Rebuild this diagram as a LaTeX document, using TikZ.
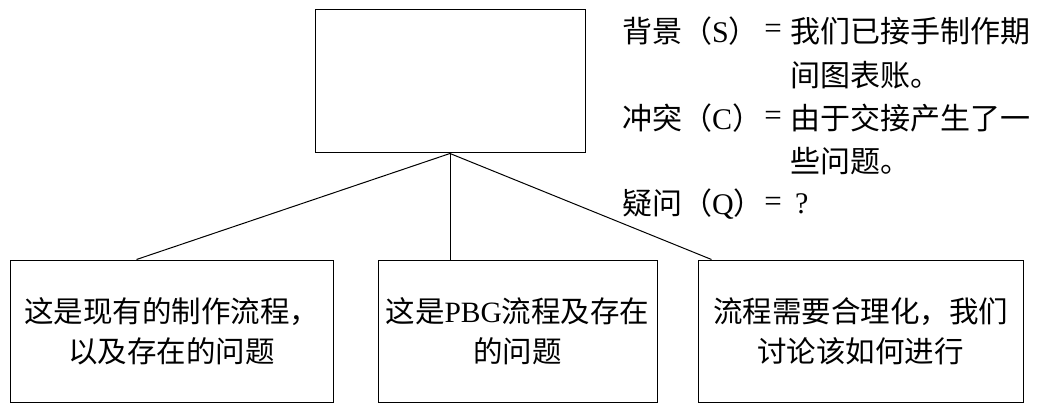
\documentclass[tikz,border=0pt]{standalone}
\usepackage{fontspec}
\setmainfont{Liberation Serif}
\newfontfamily\cjk{Noto Sans CJK SC}
\begin{document}
\begin{tikzpicture}[x=1pt,y=-1pt,
  box/.style={draw,line width=1pt,inner sep=0pt},
  txtbox/.style={box,minimum width=#1,minimum height=142pt,align=center,
    font=\cjk\fontsize{29.5}{40}\selectfont},
  lab/.style={anchor=west,inner sep=0pt,font=\cjk\fontsize{30}{34}\selectfont},
  eq/.style={anchor=center,inner sep=0pt,font=\fontsize{31}{34}\selectfont},
  conn/.style={line width=1pt}]
\useasboundingbox (0,0) rectangle (1040,403);
\node[box,minimum width=270pt,minimum height=143pt] (top) at (450,81.5) {};
\node[txtbox=323pt] (left) at (171.5,331) {这是现有的制作流程，\\以及存在的问题};
\node[txtbox=279pt] (mid) at (517.5,331) {这是{\fontspec{Liberation Serif}PBG}流程及存在\\的问题};
\node[txtbox=325pt] (right) at (860.5,331) {流程需要合理化，我们\\讨论该如何进行};
\draw[conn] (top.south) -- ([xshift=127pt]left.north west);
\draw[conn] (top.south) -- (top.south |- mid.north);
\draw[conn] (top.south) -- ([xshift=14pt]right.north west);
% SCQ text
\node[lab] (s1) at (622,31) {背景（{\fontspec{Liberation Serif}S}）};
\node[eq] (s2) at (773,31) {=};
\node[lab] (s3) at (790,31) {我们已接手制作期};
\node[lab] (s4) at (790,75) {间图表账。};
\node[lab] (c1) at (622,118) {冲突（{\fontspec{Liberation Serif}C}）};
\node[eq] (c2) at (773,118) {=};
\node[lab] (c3) at (790,118) {由于交接产生了一};
\node[lab] (c4) at (790,161) {些问题。};
\node[lab] (q1) at (622,204) {疑问（{\fontspec{Liberation Serif}Q}）};
\node[eq] (q2) at (773,204) {=};
\node[lab,font=\fontsize{30}{34}\selectfont] (q3) at (795,204) {?};
\end{tikzpicture}
\end{document}
